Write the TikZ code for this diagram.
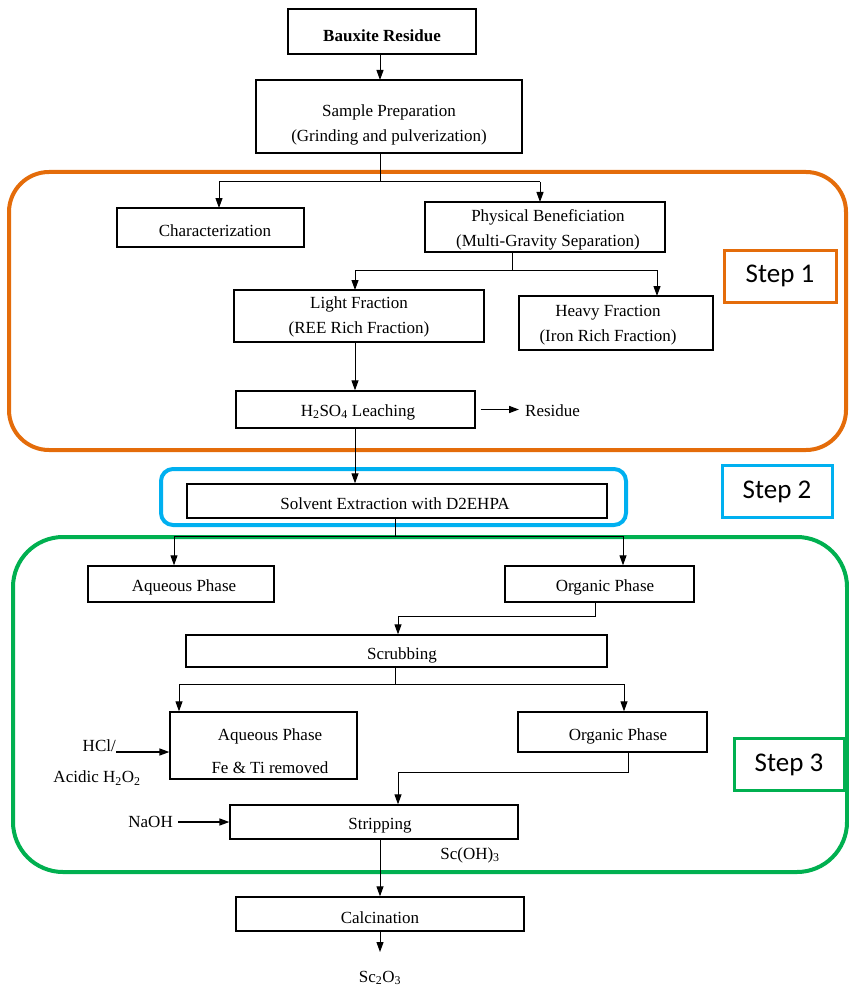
\documentclass[tikz,border=0pt]{standalone}
\usepackage{fontspec}
\setmainfont{Liberation Serif}
\newfontfamily\stepfont{Carlito}
\usetikzlibrary{arrows.meta}
\definecolor{orng}{RGB}{228,108,10}
\definecolor{bluec}{RGB}{0,176,240}
\definecolor{grnc}{RGB}{0,176,80}
\begin{document}
\begin{tikzpicture}[x=1pt,y=-1pt,
  box/.style={draw=black,line width=1.3pt,inner sep=0pt,minimum width=#1},
  txt/.style={inner sep=0pt,align=center,font=\fontsize{17}{25}\selectfont},
  ln/.style={draw=black,line width=1pt},
  arr/.style={ln,-{Triangle[length=10pt,width=7pt]}},
  stepbox/.style={draw=#1,line width=3pt,inner sep=0pt,minimum width=110pt,minimum height=52pt,font=\stepfont\fontsize{27}{30}\selectfont},
  group/.style={draw=#1,line width=4pt,rounded corners=40pt}
]
\useasboundingbox (0,0) rectangle (848,987);

% group frames
\draw[group=orng] (9,172) rectangle (846,450);
\draw[group=bluec,rounded corners=12pt] (161,469) rectangle (626,525);
\draw[group=grnc,rounded corners=50pt] (13,537) rectangle (847,872);

% step labels
\node[stepbox=orng,minimum width=112pt] (s1) at (780,276) {Step 1};
\node[stepbox=bluec] (s2) at (777,491.5) {Step 2};
\node[stepbox=grnc] (s3) at (789,764.5) {Step 3};

% boxes
\node[box=188pt,minimum height=45pt] (br) at (382,31.5) {};
\node[txt,font=\fontsize{17}{25}\selectfont\bfseries] at (382,36) {Bauxite Residue};
\node[box=266pt,minimum height=73pt] (sp) at (389,116.5) {};
\node[txt] at (389,124.5) {Sample Preparation\\(Grinding and pulverization)};
\node[box=187pt,minimum height=39pt] (ch) at (210.5,227.5) {};
\node[txt] at (215,231) {Characterization};
\node[box=240pt,minimum height=50pt] (pb) at (545,227) {};
\node[txt] at (548,230) {Physical Beneficiation\\(Multi-Gravity Separation)};
\node[box=250pt,minimum height=52pt] (lf) at (359,316) {};
\node[txt] at (359,317) {Light Fraction\\(REE Rich Fraction)};
\node[box=194pt,minimum height=54pt] (hf) at (616,323) {};
\node[txt] at (608,325) {Heavy Fraction\\(Iron Rich Fraction)};
\node[box=239pt,minimum height=37pt] (le) at (355.5,409.5) {};
\node[txt] at (358,412) {H\textsubscript{2}SO\textsubscript{4} Leaching};
\node[txt,anchor=west] (res) at (525,410.5) {Residue};
\node[box=420pt,minimum height=34pt] (se) at (397,501) {};
\node[txt] at (395,504) {Solvent Extraction with D2EHPA};
\node[box=186pt,minimum height=36pt] (aq1) at (181,584) {};
\node[txt] at (184,587) {Aqueous Phase};
\node[box=189pt,minimum height=36pt] (op1) at (599.5,584) {};
\node[txt] at (605,587) {Organic Phase};
\node[box=421pt,minimum height=32pt] (sc) at (396.5,651) {};
\node[txt] at (402,655) {Scrubbing};
\node[box=187pt,minimum height=67pt] (aq2) at (263.5,745.5) {};
\node[txt] at (270,736) {Aqueous Phase};
\node[txt] at (270,768) {Fe \& Ti removed};
\node[box=189pt,minimum height=40pt] (op2) at (612.5,732) {};
\node[txt] at (618,736) {Organic Phase};
\node[box=288pt,minimum height=34pt] (st) at (374,822) {};
\node[txt] at (380,826) {Stripping};
\node[box=288pt,minimum height=34pt] (ca) at (380,914) {};
\node[txt] at (380,918) {Calcination};

% free texts
\node[txt,anchor=east] (hcl) at (116,746) {HCl/};
\node[txt] (acid) at (97,778) {Acidic H\textsubscript{2}O\textsubscript{2}};
\node[txt,anchor=east] (naoh) at (173,822) {NaOH};
\node[txt] (scoh) at (470,855) {Sc(OH)\textsubscript{3}};
\node[txt] (sco) at (380,978) {Sc\textsubscript{2}O\textsubscript{3}};

% junctions
\coordinate (j1) at (380,182);
\coordinate (j2) at (512,270);
\coordinate (j3) at (395,536);
\coordinate (j4) at (395,684);
\coordinate (k1) at (595,616);
\coordinate (k2) at (628,772);
\coordinate (e1) at (380,952);

% connectors
\draw[arr] (380,54) -- (380,80);
\draw[ln] (sp.south -| j1) -- (j1);
\draw[ln] (219,182) -- (540,182);
\draw[arr] (219,182) -- (219,208);
\draw[arr] (540,182) -- (540,202);
\draw[ln] (pb.south -| j2) -- (j2);
\draw[ln] (355,270) -- (657,270);
\draw[arr] (355,270) -- (355,290);
\draw[arr] (657,270) -- (657,296);
\draw[arr] (lf.south -| 355,0) -- (le.north -| 355,0);
\draw[arr,line width=1.6pt] ([xshift=5pt]le.east) -- ([xshift=-6pt]res.west |- le.east);
\draw[arr] (le.south -| 355,0) -- (se.north -| 355,0);
\draw[ln] (se.south -| j3) -- (j3);
\draw[ln] (174,536) -- (623,536);
\draw[arr] (174,536) -- (aq1.north -| 174,0);
\draw[arr] (623,536) -- (op1.north -| 623,0);
\draw[ln] (op1.south -| k1) -- (k1) -- (398,616);
\draw[arr] (398,616) -- (sc.north -| 398,0);
\draw[ln] (sc.south -| j4) -- (j4);
\draw[ln] (179,684) -- (624,684);
\draw[arr] (179,684) -- (aq2.north -| 179,0);
\draw[arr] (624,684) -- (op2.north -| 624,0);
\draw[arr,line width=1.4pt] (116,752) -- (aq2.west |- 0,752);
\draw[ln] (op2.south -| k2) -- (k2) -- (398,772);
\draw[arr] (398,772) -- (st.north -| 398,0);
\draw[arr,line width=1.4pt] (178,822) -- (st.west);
\draw[arr] (st.south -| 380,0) -- (ca.north -| 380,0);
\draw[arr] (ca.south -| e1) -- (e1);
\end{tikzpicture}
\end{document}
